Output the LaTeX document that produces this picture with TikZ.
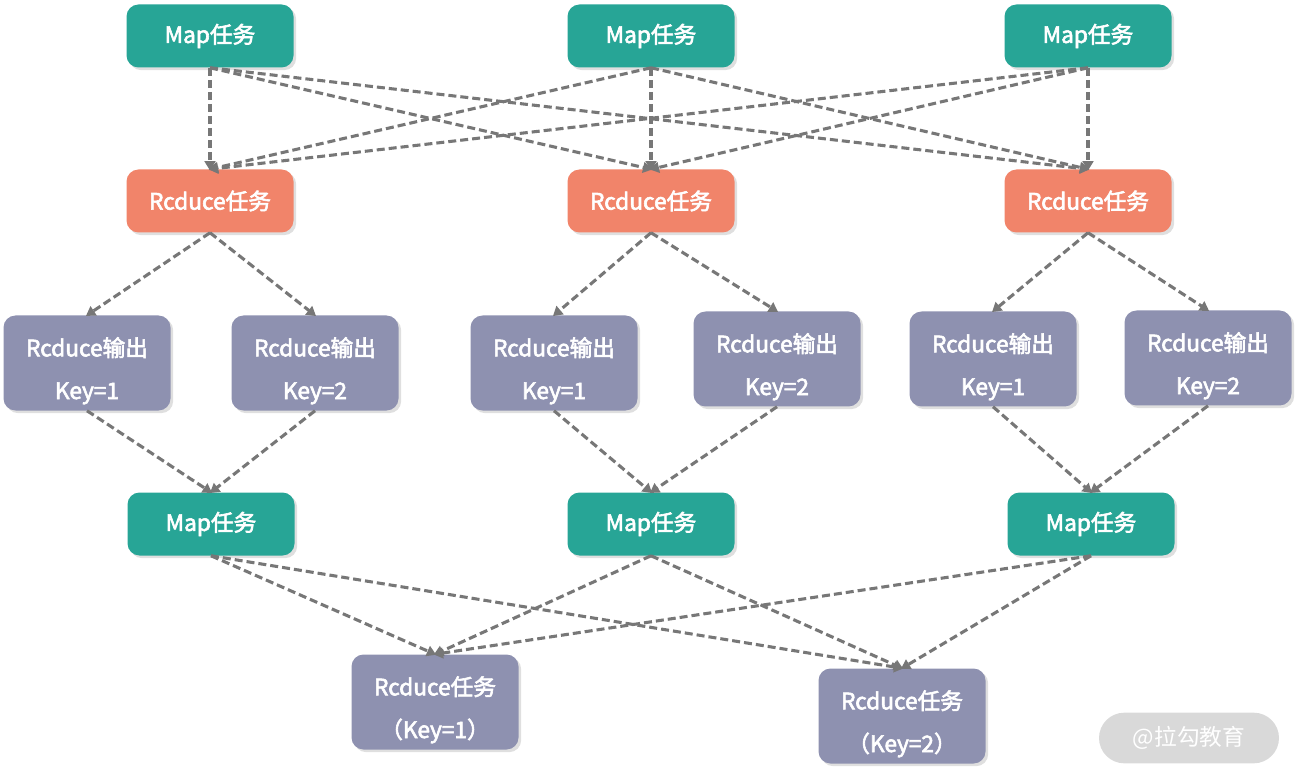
\documentclass[tikz,border=0pt]{standalone}
\usepackage{fontspec}
\setmainfont{Noto Sans CJK SC}
\usetikzlibrary{arrows.meta,shadows}
\definecolor{teal1}{HTML}{27A596}
\definecolor{orng}{HTML}{F1846A}
\definecolor{purp}{HTML}{8E91B0}
\definecolor{arr}{HTML}{777777}
\definecolor{wm}{HTML}{D9D9D9}
\newcommand\upstrut{\rule{0pt}{26pt}}
\tikzset{
  box/.style={rounded corners=9pt, text=white, align=center, inner sep=0pt,
    minimum width=125.25pt, font=\fontsize{17}{32}\selectfont,
    execute at begin node={\special{pdf:literal direct 2 Tr 0.45 w}},
    execute at end node={\special{pdf:literal direct 0 Tr}},
    drop shadow={shadow xshift=2pt, shadow yshift=-2pt, opacity=0.25}},
  mapbox/.style={box, fill=teal1, minimum height=47.25pt},
  redbox/.style={box, fill=orng, minimum height=47.25pt},
  outbox/.style={box, fill=purp, minimum height=71.25pt},
  conn/.style={draw=arr, line width=2.3pt, dash pattern=on 6pt off 3pt,
    -{Triangle[length=7pt,width=8pt]}, shorten >=-1pt}
}
\begin{document}
\begin{tikzpicture}[x=0.75pt,y=-0.75pt]
\useasboundingbox (0,0) rectangle (1299,780);
% top map
\node[mapbox] (m1) at (210,36) {Map任务};
\node[mapbox] (m2) at (651,36) {Map任务};
\node[mapbox] (m3) at (1088,36) {Map任务};
% reduce
\node[redbox] (r1) at (210,201) {Rcduce任务};
\node[redbox] (r2) at (651,201) {Rcduce任务};
\node[redbox] (r3) at (1088,201) {Rcduce任务};
% outputs
\node[outbox] (o1) at (87,363) {\upstrut Rcduce输出\\Key=1};
\node[outbox] (o2) at (315,363) {\upstrut Rcduce输出\\Key=2};
\node[outbox] (o3) at (554,363) {\upstrut Rcduce输出\\Key=1};
\node[outbox] (o4) at (777,359) {\upstrut Rcduce输出\\Key=2};
\node[outbox] (o5) at (993,359) {\upstrut Rcduce输出\\Key=1};
\node[outbox] (o6) at (1208,358) {\upstrut Rcduce输出\\Key=2};
% second map
\node[mapbox] (n1) at (211,524) {Map任务};
\node[mapbox] (n2) at (651,524) {Map任务};
\node[mapbox] (n3) at (1091,524) {Map任务};
% final reduce
\node[outbox] (f1) at (435,702) {\upstrut Rcduce任务\\（Key=1）};
\node[outbox] (f2) at (902,716) {\upstrut Rcduce任务\\（Key=2）};
% watermark
\node[fill=wm, rounded corners=19pt, minimum width=135pt, minimum height=38pt,
  text=white, font=\fontsize{17}{20}\selectfont] (wm) at (1189,738) {@拉勾教育};
% connectors
\foreach \a in {m1,m2,m3}{\foreach \b in {r1,r2,r3}{\draw[conn] (\a.south) -- (\b.north);}}
\draw[conn] (r1.south) -- (o1.north);
\draw[conn] (r1.south) -- (o2.north);
\draw[conn] (r2.south) -- (o3.north);
\draw[conn] (r2.south) -- (o4.north);
\draw[conn] (r3.south) -- (o5.north);
\draw[conn] (r3.south) -- (o6.north);
\draw[conn] (o1.south) -- (n1.north);
\draw[conn] (o2.south) -- (n1.north);
\draw[conn] (o3.south) -- (n2.north);
\draw[conn] (o4.south) -- (n2.north);
\draw[conn] (o5.south) -- (n3.north);
\draw[conn] (o6.south) -- (n3.north);
\foreach \a in {n1,n2,n3}{\foreach \b in {f1,f2}{\draw[conn] (\a.south) -- (\b.north);}}
\end{tikzpicture}
\end{document}
